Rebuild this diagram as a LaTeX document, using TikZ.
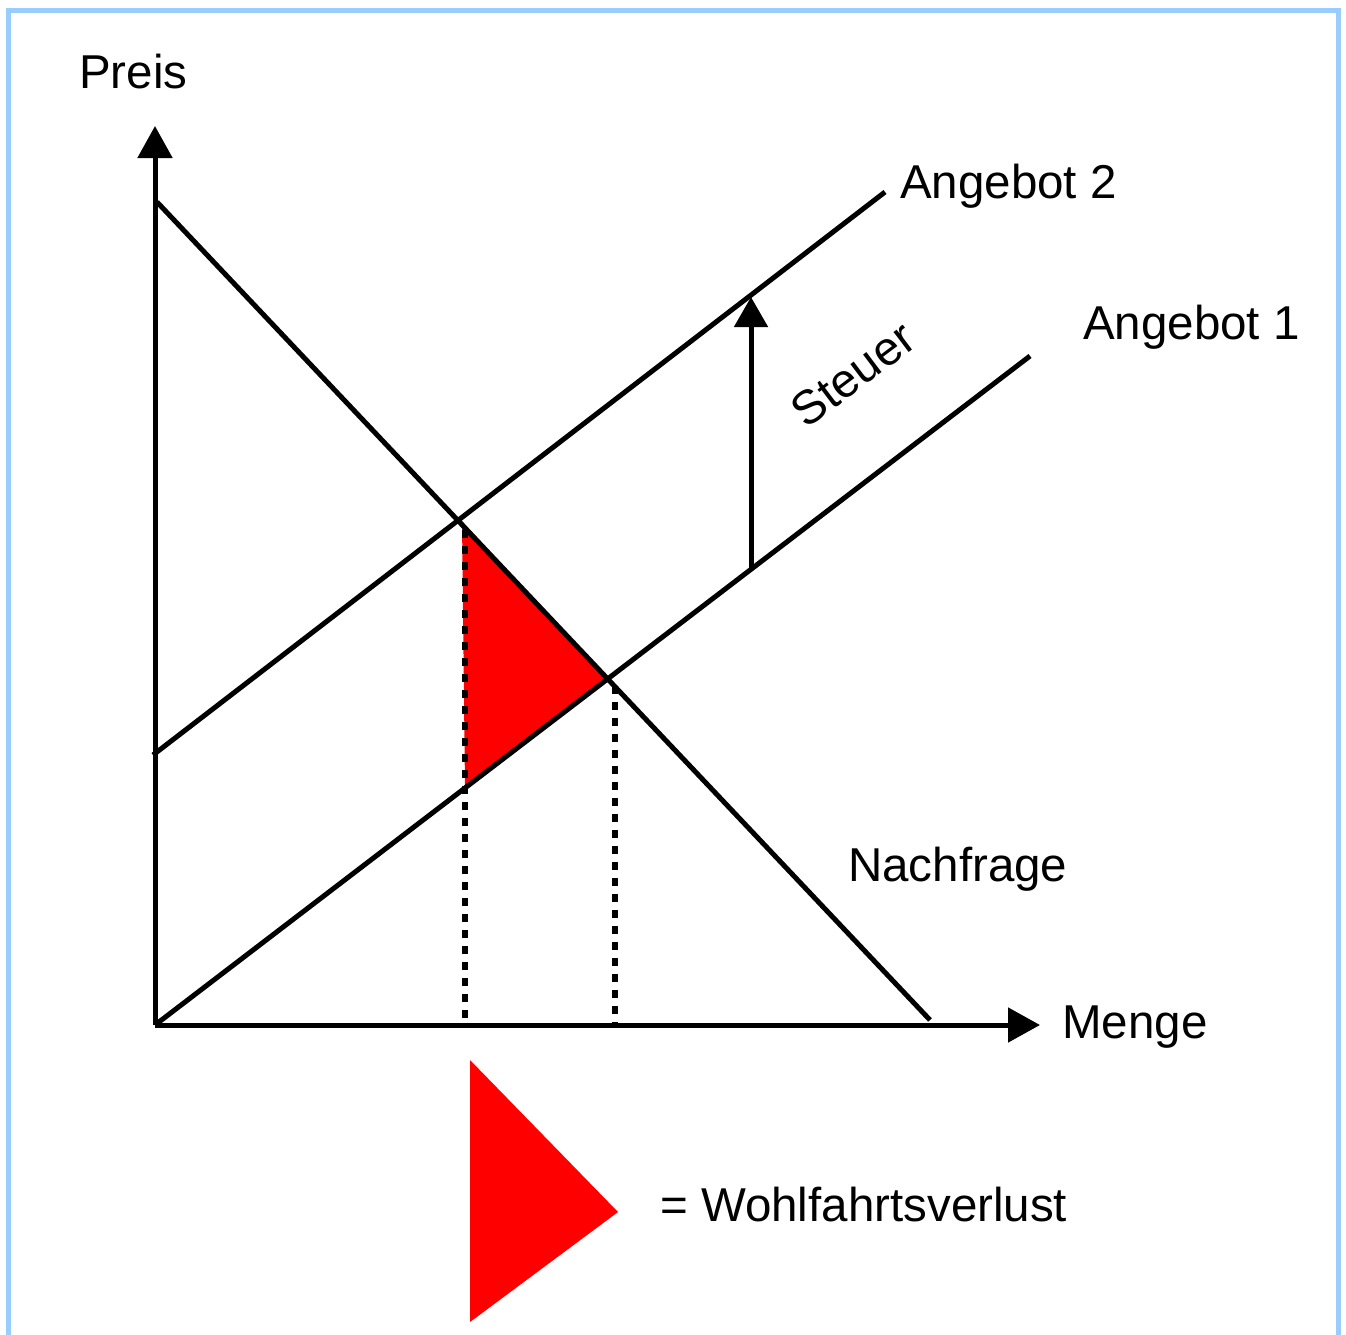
\documentclass[tikz,border=0pt]{standalone}
\usepackage{fontspec}
\setmainfont{Liberation Sans}
\usetikzlibrary{arrows.meta}
\definecolor{frameblue}{HTML}{99CCFF}
\begin{document}
\begin{tikzpicture}[x=1pt,y=-1pt,
  curve/.style={line width=5pt},
  axis/.style={line width=5pt,-{Triangle[width=34pt,length=32pt]}},
  dots/.style={line width=5.5pt,dash pattern=on 8pt off 8pt},
  lbl/.style={anchor=base west,inner sep=0pt,font=\fontsize{47.5}{57}\selectfont}]
\useasboundingbox (0,0) rectangle (1346,1334);
\draw[frameblue,line width=5pt] (8,10) rectangle (1338,1345);
% points
\coordinate (O) at (155,1025);
\coordinate (ytop) at (155,126);
\coordinate (xend) at (1040,1025);
\coordinate (d1) at (157,202);
\coordinate (d2) at (930,1020);
\coordinate (s1a) at (155,1025);
\coordinate (s1b) at (1030,356);
\coordinate (s2a) at (153,755);
\coordinate (s2b) at (885,192);
\coordinate (E2) at (462,521);
\coordinate (E1) at (607,680);
\coordinate (F) at (465,788);
\coordinate (q2top) at (465,530);
\coordinate (q2bot) at (465,1025);
\coordinate (q1top) at (615,686);
\coordinate (q1bot) at (615,1025);
\coordinate (tb) at (751,569);
\coordinate (tt) at (751,297);
% red area
\fill[red] (E2) -- (E1) -- (F) -- cycle;
\draw[dots] (q2top) -- (q2bot);
\draw[dots] (q1top) -- (q1bot);
% curves
\draw[curve] (d1) -- (d2);
\draw[curve] (s1a) -- (s1b);
\draw[curve] (s2a) -- (s2b);
\draw[axis] (O) -- (ytop);
\draw[axis] (O) -- (xend);
\draw[line width=5pt,-{Triangle[width=33pt,length=30pt]}] (tb) -- (tt);
% labels
\node[lbl] (preis) at (79,88) {Preis};
\node[lbl] (ang2) at (900,198) {Angebot 2};
\node[lbl] (ang1) at (1083,339) {Angebot 1};
\node[lbl] (nach) at (848,881) {Nachfrage};
\node[lbl] (menge) at (1062,1038) {Menge};
\node[inner sep=0pt,font=\fontsize{47.5}{57}\selectfont,rotate=37] (steuer) at (853,374) {Steuer};
% legend
\coordinate (l1) at (470,1060);
\coordinate (l2) at (618,1212);
\coordinate (l3) at (470,1322);
\fill[red] (l1) -- (l2) -- (l3) -- cycle;
\node[lbl] (wv) at (660,1221) {= Wohlfahrtsverlust};
\end{tikzpicture}
\end{document}
